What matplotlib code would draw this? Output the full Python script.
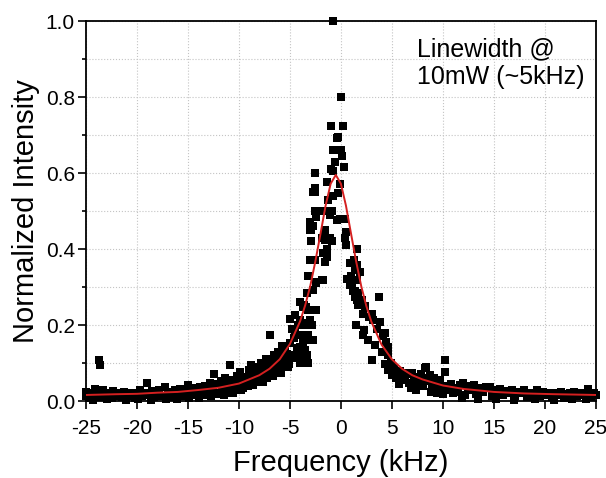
import numpy as np
import matplotlib
matplotlib.use("Agg")
import matplotlib.pyplot as plt
from matplotlib.ticker import MultipleLocator

plt.rcParams['font.family'] = ['Liberation Sans', 'DejaVu Sans']
plt.rcParams['axes.unicode_minus'] = False

left_tail_x = [-25.0, -25.0, -24.8, -24.6, -24.4, -24.1, -23.9, -23.7, -23.6, -23.5, -23.3, -23.0,
               -22.8, -22.5, -22.4, -22.1, -21.8, -21.5, -21.3, -21.0, -20.7, -20.5, -20.2, -20.0,
               -19.7, -19.5, -19.2, -19.0, -18.8, -18.5, -18.3, -18.0, -17.8, -17.5, -17.3, -17.0,
               -16.8, -16.5, -16.3, -16.0, -15.8, -15.5, -15.3, -15.0, -14.8, -14.5, -14.3, -14.0,
               -13.8, -13.5, -13.3, -13.0, -12.8, -12.5, -12.4, -12.1, -12.0, -11.8, -11.6, -11.4,
               -11.2, -11.0, -10.9, -10.7, -10.5, -10.4, -10.2, -10.0,
               -24.3, -22.9, -21.1, -19.9, -18.6, -17.2, -16.1, -14.9, -13.9, -12.7, -11.5, -10.6,
               -13.2, -12.3, -11.7, -11.1, -10.8]
left_tail_y = [0.025, 0.012, 0.020, 0.008, 0.015, 0.033, 0.018, 0.108, 0.095, 0.010, 0.028, 0.015,
               0.022, 0.008, 0.026, 0.014, 0.020, 0.010, 0.024, 0.016, 0.012, 0.021, 0.009, 0.018,
               0.029, 0.013, 0.022, 0.048, 0.015, 0.026, 0.010, 0.020, 0.028, 0.012, 0.038, 0.018,
               0.025, 0.010, 0.030, 0.020, 0.033, 0.014, 0.029, 0.042, 0.022, 0.016, 0.034, 0.026,
               0.037, 0.020, 0.040, 0.028, 0.047, 0.033, 0.071, 0.045, 0.022, 0.052, 0.036, 0.060,
               0.030, 0.047, 0.095, 0.055, 0.040, 0.055, 0.065, 0.038,
               0.004, 0.005, 0.003, 0.006, 0.004, 0.006, 0.005, 0.008, 0.007, 0.012, 0.015, 0.020,
               0.015, 0.018, 0.025, 0.020, 0.030]

left_flank_x = [-9.9, -9.7, -9.5, -9.4, -9.2, -9.0, -8.9, -8.7, -8.5, -8.3, -8.1, -8.0,
                -7.8, -7.7, -7.5, -7.3, -7.2, -7.0, -7.0, -6.8, -6.6, -6.5, -6.3, -6.2,
                -6.0, -6.0, -5.8, -5.7, -5.5, -5.5, -5.3, -5.2, -5.0, -5.0, -4.9, -4.8,
                -4.8, -4.6, -4.5, -4.5, -4.4, -4.3, -9.6, -8.6, -7.6, -6.7, -5.9, -5.1,
                -9.8, -9.1, -8.2, -7.4, -6.9, -6.4, -5.6, -8.8, -7.9]
left_flank_y = [0.076, 0.050, 0.062, 0.060, 0.045, 0.082, 0.074, 0.058, 0.090, 0.065, 0.087, 0.050,
                0.100, 0.068, 0.078, 0.110, 0.060, 0.082, 0.174, 0.095, 0.120, 0.095, 0.078, 0.130,
                0.082, 0.110, 0.145, 0.100, 0.140, 0.103, 0.125, 0.090, 0.153, 0.217, 0.120, 0.113,
                0.190, 0.165, 0.226, 0.187, 0.121, 0.140, 0.035, 0.042, 0.050, 0.065, 0.075, 0.098,
                0.030, 0.040, 0.072, 0.092, 0.105, 0.115, 0.128, 0.095, 0.080]

peak_left_x = [-4.2, -4.0, -4.0, -4.0, -4.0, -4.0, -4.0, -3.8, -3.7, -3.7, -3.7, -3.7,
               -3.6, -3.5, -3.5, -3.5, -3.45, -3.35, -3.3, -3.2, -3.2, -3.2, -3.2, -3.05,
               -3.05, -3.05, -3.05, -3.0, -2.95, -2.9, -2.85, -2.75, -2.75, -2.7, -2.7, -2.55,
               -2.55, -2.55, -2.5, -2.5, -2.45, -2.45, -2.4, -2.4, -2.2, -1.9, -1.9, -1.85,
               -1.75, -1.75, -1.6, -1.6, -1.6, -1.4, -1.4, -1.4, -1.3, -1.25, -1.1, -1.1,
               -1.0, -1.0, -0.9, -0.85, -0.8, -0.8, -0.8, -0.75, -0.6, -0.4, -0.4, -0.25, -0.25]
peak_left_y = [0.200, 0.260, 0.213, 0.174, 0.140, 0.100, 0.143, 0.113, 0.153, 0.126, 0.170, 0.247,
               0.253, 0.200, 0.134, 0.205, 0.248, 0.283, 0.120, 0.174, 0.240, 0.330, 0.100, 0.370,
               0.450, 0.470, 0.213, 0.160, 0.420, 0.450, 0.200, 0.292, 0.160, 0.460, 0.550, 0.370,
               0.500, 0.551, 0.560, 0.600, 0.313, 0.240, 0.485, 0.310, 0.500, 0.430, 0.500, 0.318,
               0.390, 0.318, 0.450, 0.425, 0.365, 0.380, 0.400, 0.576, 0.530, 0.500, 0.490, 0.430,
               0.610, 0.725, 0.500, 0.420, 0.540, 0.605, 1.000, 0.660, 0.630, 0.693, 0.476, 0.547, 0.695]

peak_right_x = [-0.1, -0.1, 0.0, 0.0, 0.15, 0.2, 0.2, 0.3, 0.4, 0.4, 0.5, 0.5,
                0.6, 0.9, 0.9, 1.0, 1.05, 1.2, 1.3, 1.4, 1.4, 1.4, 1.45, 1.55,
                1.55, 1.55, 1.55, 1.65, 1.65, 1.85, 2.05, 2.15, 2.15, 2.25, 2.4, 2.65,
                2.8, 3.05, 3.05, 3.2, 3.35, 3.5, 3.7, 3.8, 4.0, 4.1, 4.3, 4.3,
                4.4, 4.6, 4.6, 4.6]
peak_right_y = [0.570, 0.480, 0.800, 0.660, 0.645, 0.725, 0.478, 0.617, 0.480, 0.430, 0.445, 0.410,
                0.320, 0.364, 0.305, 0.330, 0.310, 0.290, 0.370, 0.345, 0.273, 0.290, 0.200, 0.400,
                0.358, 0.265, 0.318, 0.253, 0.284, 0.340, 0.266, 0.230, 0.174, 0.187, 0.250, 0.160,
                0.220, 0.230, 0.108, 0.213, 0.147, 0.190, 0.274, 0.208, 0.130, 0.170, 0.180, 0.097,
                0.155, 0.142, 0.121, 0.082]

right_flank_x = [4.9, 5.0, 5.2, 5.4, 5.6, 5.8, 6.0, 6.3, 6.5, 6.7, 7.0, 7.2,
                 7.5, 7.7, 7.9, 8.1, 8.3, 8.4, 8.5, 8.7, 8.9, 9.1, 9.3, 9.5,
                 9.7, 9.9, 10.2, 10.2, 10.4, 10.6, 5.1, 5.7, 6.2, 6.9, 7.4, 8.0,
                 8.8, 9.4, 10.0]
right_flank_y = [0.100, 0.068, 0.085, 0.060, 0.068, 0.078, 0.055, 0.060, 0.072, 0.048, 0.074, 0.055,
                 0.063, 0.047, 0.070, 0.040, 0.087, 0.090, 0.052, 0.068, 0.038, 0.060, 0.045, 0.030,
                 0.055, 0.035, 0.108, 0.076, 0.040, 0.028, 0.090, 0.045, 0.075, 0.035, 0.030, 0.060,
                 0.025, 0.020, 0.018]

right_tail_x = [10.8, 11.0, 11.2, 11.5, 11.7, 12.0, 12.2, 12.5, 12.8, 13.1, 13.3, 13.6,
                13.9, 14.2, 14.6, 14.8, 15.0, 15.3, 15.6, 15.9, 16.2, 16.5, 16.8, 17.1,
                17.4, 17.7, 18.0, 18.3, 18.6, 18.9, 19.2, 19.5, 19.8, 20.1, 20.4, 20.7,
                21.0, 21.3, 21.6, 21.9, 22.2, 22.5, 22.9, 23.2, 23.5, 23.8, 24.2, 24.5,
                24.8, 25.0, 11.9, 13.5, 15.2, 17.0, 19.0, 20.9, 22.7, 24.0]
right_tail_y = [0.045, 0.020, 0.035, 0.025, 0.042, 0.047, 0.015, 0.030, 0.040, 0.042, 0.018, 0.035,
                0.025, 0.038, 0.037, 0.012, 0.028, 0.020, 0.033, 0.015, 0.027, 0.022, 0.030, 0.012,
                0.025, 0.020, 0.028, 0.010, 0.022, 0.018, 0.029, 0.012, 0.024, 0.016, 0.022, 0.010,
                0.020, 0.015, 0.024, 0.008, 0.018, 0.022, 0.024, 0.012, 0.020, 0.016, 0.031, 0.010,
                0.022, 0.015, 0.008, 0.006, 0.005, 0.004, 0.005, 0.004, 0.006, 0.005]

# Lorentzian fit curve
fit_x = [-25, -22, -20, -18, -16, -14, -12, -10, -9, -8, -7, -6, -5, -4, -3.5, -3, -2.5, -2,
         -1.5, -1, -0.5, 0, 0.5, 1, 1.5, 2, 2.5, 3, 4, 5, 6, 7, 8, 10, 12, 15, 18, 21, 25]
fit_y = [0.016, 0.018, 0.019, 0.022, 0.024, 0.029, 0.035, 0.046, 0.057, 0.068, 0.085, 0.110,
         0.150, 0.210, 0.252, 0.303, 0.368, 0.440, 0.514, 0.572, 0.595, 0.572, 0.514, 0.440,
         0.367, 0.302, 0.250, 0.208, 0.148, 0.110, 0.085, 0.068, 0.057, 0.041, 0.032, 0.024,
         0.020, 0.018, 0.016]

freq = np.concatenate([left_tail_x, left_flank_x, peak_left_x, peak_right_x, right_flank_x, right_tail_x])
inten = np.concatenate([left_tail_y, left_flank_y, peak_left_y, peak_right_y, right_flank_y, right_tail_y])

fig = plt.figure(figsize=(6.06, 4.78), dpi=100)
ax = fig.add_axes([0.142, 0.161, 0.841, 0.795])

ax.plot(freq, inten, 's', color='black', markersize=6.3, markeredgewidth=0, clip_on=False, zorder=3)
ax.plot(fit_x, fit_y, color='#d42020', linewidth=1.4, zorder=4)

ax.set_xlim(-25, 25)
ax.set_ylim(0, 1.0)
ax.xaxis.set_major_locator(MultipleLocator(5))
ax.yaxis.set_major_locator(MultipleLocator(0.2))
ax.yaxis.set_minor_locator(MultipleLocator(0.1))
ax.yaxis.set_major_formatter(matplotlib.ticker.FormatStrFormatter('%.1f'))
ax.tick_params(direction='out', length=6, width=1.2, labelsize=15, colors='black')
ax.tick_params(axis='x', pad=7)
ax.tick_params(axis='y', pad=2)
ax.tick_params(which='minor', direction='out', length=3, width=1.2)
ax.grid(True, which='both', axis='y', linestyle=':', color='#c4c4c4', linewidth=0.8)
ax.grid(True, which='major', axis='x', linestyle=':', color='#c4c4c4', linewidth=0.8)
for s in ax.spines.values():
    s.set_linewidth(1.3)

ax.set_xlabel('Frequency (kHz)', fontsize=21, labelpad=8)
ax.set_ylabel('Normalized Intensity', fontsize=21, labelpad=4)
ax.text(7.5, 0.958, 'Linewidth @\n10mW (~5kHz)', fontsize=18, ha='left', va='top', linespacing=1.2)

fig.savefig('out.png', dpi=100)
